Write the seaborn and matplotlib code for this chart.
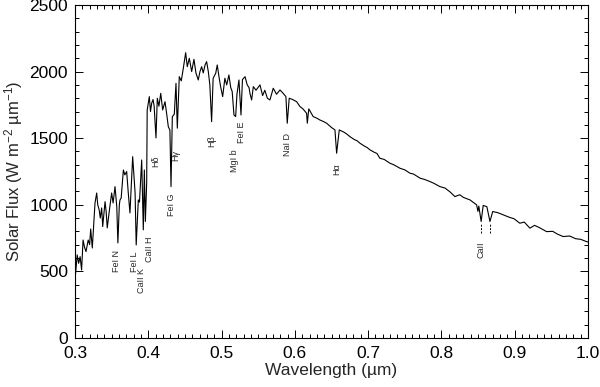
import matplotlib
matplotlib.use("Agg")
import matplotlib.pyplot as plt
import seaborn as sns
import pandas as pd
from matplotlib.ticker import MultipleLocator, FormatStrFormatter

# Solar spectrum (wavelength in um, flux in W m-2 um-1)
wavelength = [
    0.300, 0.303, 0.305, 0.307, 0.309, 0.311, 0.313, 0.315, 0.318, 0.320,
    0.3214, 0.3236, 0.3255, 0.3273, 0.3296, 0.331, 0.333, 0.3345, 0.3364, 0.3378,
    0.341, 0.3425, 0.344, 0.347, 0.350, 0.352, 0.3546, 0.357, 0.3585, 0.3605,
    0.3614, 0.363, 0.366, 0.368, 0.3705, 0.3727, 0.375, 0.3787, 0.382, 0.3835,
    0.3864, 0.388, 0.391, 0.3932, 0.3946, 0.396, 0.3978, 0.3985, 0.4014, 0.403,
    0.4046, 0.4065, 0.408, 0.4105, 0.4123, 0.4145, 0.417, 0.4196, 0.4228, 0.425,
    0.4273, 0.4295, 0.431, 0.4328, 0.4355, 0.4378, 0.4396, 0.4423, 0.445, 0.4478,
    0.451, 0.4532, 0.456, 0.4592, 0.4623, 0.465, 0.4682, 0.4705, 0.4728, 0.475,
    0.4775, 0.4796, 0.4819, 0.484, 0.4864, 0.4885, 0.492, 0.4941, 0.4965, 0.4987,
    0.5015, 0.5045, 0.507, 0.510, 0.5125, 0.5145, 0.5169, 0.5192, 0.521, 0.5237,
    0.5265, 0.5285, 0.532, 0.535, 0.5375, 0.5387, 0.541, 0.5433, 0.547, 0.5524,
    0.556, 0.559, 0.5625, 0.566, 0.5705, 0.575, 0.5797, 0.584, 0.5878, 0.5896,
    0.5923, 0.597, 0.6024, 0.607, 0.611, 0.616, 0.617, 0.619, 0.625, 0.630,
    0.634, 0.639, 0.6434, 0.647, 0.650, 0.6547, 0.657, 0.6606, 0.667, 0.671,
    0.675, 0.681, 0.685, 0.6888, 0.695, 0.6985, 0.7025, 0.708, 0.712, 0.716,
    0.722, 0.7297, 0.735, 0.7434, 0.750, 0.757, 0.762, 0.771, 0.777, 0.7843,
    0.790, 0.798, 0.805, 0.812, 0.8184, 0.825, 0.830, 0.839, 0.848, 0.8498,
    0.851, 0.8542, 0.857, 0.862, 0.8662, 0.870, 0.877, 0.8843, 0.893, 0.899,
    0.907, 0.913, 0.9207, 0.927, 0.933, 0.9435, 0.952, 0.958, 0.966, 0.975,
    0.983, 0.990, 0.998, 1.000,
]
flux = [
    435, 623, 560, 610, 510, 735, 680, 648, 735, 700,
    818, 675, 850, 1013, 1088, 1000, 961, 900, 976, 836,
    1023, 950, 826, 961, 1088, 1013, 1136, 986, 713, 1000,
    1036, 1050, 1261, 1224, 1249, 1088, 938, 1361, 1088, 698,
    1036, 1020, 1336, 811, 1261, 874, 1163, 1711, 1812, 1700,
    1762, 1790, 1740, 1502, 1800, 1740, 1837, 1712, 1774, 1687,
    1587, 1560, 1136, 1662, 1680, 1912, 1575, 1962, 1930, 2025,
    2142, 2037, 2100, 2000, 2092, 1990, 1937, 2000, 2037, 1990,
    2050, 2075, 2000, 1900, 1624, 1950, 1987, 2050, 1960, 1887,
    1812, 1950, 1900, 1975, 1880, 1850, 1674, 1662, 1830, 1937,
    1674, 1940, 1962, 1900, 1880, 1837, 1787, 1887, 1860, 1900,
    1820, 1860, 1800, 1787, 1875, 1830, 1862, 1837, 1812, 1612,
    1800, 1790, 1774, 1737, 1720, 1687, 1612, 1720, 1662, 1650,
    1637, 1625, 1612, 1595, 1580, 1562, 1387, 1562, 1545, 1530,
    1512, 1490, 1480, 1462, 1440, 1430, 1412, 1395, 1385, 1349,
    1340, 1312, 1300, 1274, 1262, 1237, 1230, 1199, 1190, 1174,
    1160, 1136, 1125, 1095, 1061, 1075, 1055, 1036, 999, 950,
    990, 874, 995, 985, 874, 949, 940, 924, 905, 895,
    861, 870, 824, 845, 830, 798, 800, 780, 761, 765,
    745, 740, 723, 720,
]

# Line identifications: label, wavelength of label, flux at top of label
line_names = ["FeI N", "FeI L", "CaII K", "CaII H", "Hδ", "FeI G", "Hγ",
              "Hβ", "MgI b", "FeI E", "NaI D", "Hα", "CaII"]
line_wl = [0.3573, 0.3818, 0.3914, 0.4023, 0.4105, 0.4310, 0.4375,
           0.4866, 0.5170, 0.5274, 0.5896, 0.6570, 0.8535]
line_top = [660, 645, 525, 765, 1372, 1088, 1410,
            1524, 1412, 1622, 1537, 1312, 720]

# Ca II triplet markers
ca_marks = [0.8542, 0.8662]

df = pd.DataFrame({"wl": wavelength, "flux": flux})

sns.set_style("ticks", {"xtick.direction": "in", "ytick.direction": "in"})
plt.rcParams["font.family"] = ["Liberation Sans", "DejaVu Sans"]
plt.rcParams["mathtext.fontset"] = "custom"
plt.rcParams["mathtext.rm"] = "Liberation Sans"
plt.rcParams["mathtext.it"] = "Liberation Sans:italic"

fig, ax = plt.subplots(figsize=(6, 3.87), dpi=100)
fig.subplots_adjust(left=0.125, right=0.98, bottom=0.127, top=0.987)

sns.lineplot(data=df, x="wl", y="flux", color="black", linewidth=0.8,
             estimator=None, ax=ax)

for name, w, t in zip(line_names, line_wl, line_top):
    ax.text(w, t, name, rotation=90, ha="center", va="top", fontsize=6.5)

for w in ca_marks:
    ax.plot([w, w], [790, 860], color="black", linewidth=0.7, linestyle=(0, (2, 1.5)))

ax.set_xlim(0.3, 1.0)
ax.set_ylim(0, 2500)
ax.xaxis.set_major_locator(MultipleLocator(0.1))
ax.xaxis.set_minor_locator(MultipleLocator(0.01))
ax.yaxis.set_major_locator(MultipleLocator(500))
ax.yaxis.set_minor_locator(MultipleLocator(100))
ax.xaxis.set_major_formatter(FormatStrFormatter("%.1f"))
ax.tick_params(which="both", direction="in", top=True, right=True,
               labelsize=12.5, width=0.7, colors="black")
ax.tick_params(which="major", length=6)
ax.tick_params(which="minor", length=3)
ax.tick_params(axis="x", pad=6)
ax.tick_params(axis="y", pad=5)
for s in ax.spines.values():
    s.set_visible(True)
    s.set_linewidth(0.8)
    s.set_color("black")

ax.set_xlabel("Wavelength (µm)", fontsize=12.5, labelpad=1)
ax.set_ylabel("Solar Flux (W m$^{-2}$ µm$^{-1}$)", fontsize=12, labelpad=3)

fig.savefig("out.png", dpi=100)
